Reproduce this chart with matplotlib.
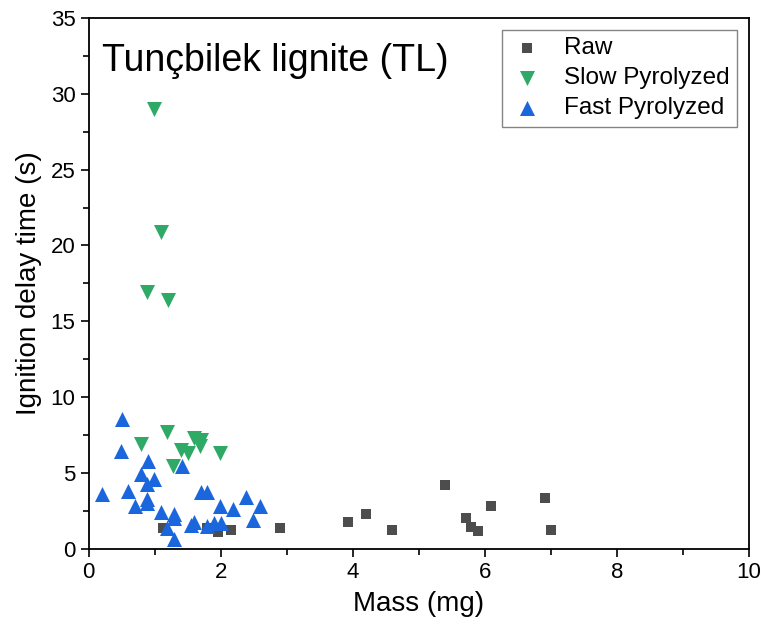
import matplotlib
matplotlib.use("Agg")
import matplotlib.pyplot as plt
from matplotlib.ticker import MultipleLocator

plt.rcParams['font.family'] = ['Liberation Sans', 'DejaVu Sans']

raw_x = [1.12, 1.79, 1.96, 2.15, 2.90, 3.93, 4.20, 4.60, 5.40, 5.71, 5.80, 5.90, 6.10, 6.91, 7.00]
raw_y = [1.40, 1.37, 1.10, 1.26, 1.40, 1.76, 2.29, 1.26, 4.22, 2.05, 1.45, 1.20, 2.82, 3.35, 1.26]

slow_x = [0.99, 1.10, 0.89, 1.20, 1.19, 0.79, 1.60, 1.70, 1.69, 1.99, 1.40, 1.50, 1.28]
slow_y = [29.0, 20.9, 16.9, 16.4, 7.7, 6.9, 7.3, 7.15, 6.75, 6.3, 6.5, 6.3, 5.45]

fast_x = [0.50, 0.49, 0.90, 0.79, 0.99, 0.89, 0.20, 0.60, 1.70, 1.80, 0.89, 0.89, 0.70,
          1.41, 1.10, 1.99, 2.19, 2.39, 2.60, 2.49, 1.29, 1.29, 1.19, 1.29, 1.60, 1.55,
          1.80, 1.90, 2.00]
fast_y = [8.57, 6.48, 5.77, 4.95, 4.62, 4.30, 3.63, 3.80, 3.72, 3.72, 3.28, 3.02, 2.84,
          5.45, 2.45, 2.84, 2.60, 3.41, 2.84, 1.92, 2.31, 2.03, 1.37, 0.64, 1.75, 1.55,
          1.52, 1.70, 1.70]

fig = plt.figure(figsize=(7.64, 6.39), dpi=100)
ax = fig.add_axes([0.116, 0.141, 0.864, 0.831])

ax.scatter(raw_x, raw_y, marker='s', s=62, color='#4d4d4d', linewidths=0, label='Raw', zorder=3)
ax.scatter(slow_x, slow_y, marker='v', s=117, color='#2eaa66', linewidths=0, label='Slow Pyrolyzed', zorder=3)
ax.scatter(fast_x, fast_y, marker='^', s=117, color='#1a66dd', linewidths=0, label='Fast Pyrolyzed', zorder=3)

ax.set_xlim(0, 10)
ax.set_ylim(0, 35)
ax.xaxis.set_major_locator(MultipleLocator(2))
ax.xaxis.set_minor_locator(MultipleLocator(1))
ax.yaxis.set_major_locator(MultipleLocator(5))
ax.yaxis.set_minor_locator(MultipleLocator(2.5))
ax.tick_params(which='both', direction='out', top=False, right=False, width=1.2, labelsize=16)
ax.tick_params(which='major', length=6)
ax.tick_params(which='minor', length=4)
for sp in ax.spines.values():
    sp.set_linewidth(1.3)

ax.set_xlabel('Mass (mg)', fontsize=20, labelpad=6)
ax.set_ylabel('Ignition delay time (s)', fontsize=20, labelpad=6)

ax.text(0.02, 0.952, 'Tunçbilek lignite (TL)', transform=ax.transAxes, fontsize=27,
        ha='left', va='top')

leg = ax.legend(loc='upper right', fontsize=17.5, frameon=True, fancybox=False,
                edgecolor='#666666', handlelength=1.5, handletextpad=0.75,
                labelspacing=0.33, borderpad=0.3, borderaxespad=0.5, scatterpoints=1)
leg.get_frame().set_linewidth(1.0)

fig.savefig('out.png', dpi=100)
